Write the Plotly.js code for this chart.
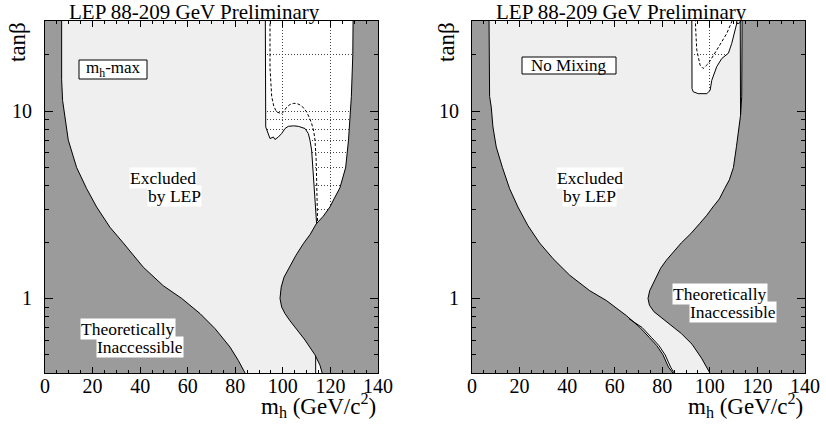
<!DOCTYPE html>
<html>
<head>
<meta charset="utf-8">
<script src="https://cdn.plot.ly/plotly-3.0.1.min.js"></script>
<style>html,body{margin:0;padding:0;background:#fff;}#chart{width:826px;height:427px;}</style>
</head>
<body>
<div id="chart"></div>
<script>
// ---------- DATA (m_h in GeV/c^2, tan(beta)) ----------
// Left panel: m_h-max scenario
const maxLeftDarkX = [7.0, 7.0, 7.4, 8.0, 9.8, 13.3, 17.5, 21.7, 27.3, 32.9, 41.3, 49.7, 57.5, 65.2, 71.5, 77.8, 81.3, 84.1, 84.6];
const maxLeftDarkY = [40, 14.7, 11.4, 10, 7.0, 5.0, 3.86, 3.08, 2.4, 1.98, 1.47, 1.17, 1.0, 0.83, 0.69, 0.55, 0.466, 0.4, 0.38];
const maxRightDarkX = [129.6, 129.4, 128.8, 128.4, 127.6, 126.4, 124.0, 121.5, 119.8, 117.0, 114.0, 111.5, 108.6, 105.5, 102.7, 100.5, 99.3, 98.8, 99.5, 100.9, 103.0, 105.1, 109.3, 113.5, 115.6, 117.0];
const maxRightDarkY = [40, 20, 12, 10, 7, 5, 3.9, 3.4, 3.08, 2.75, 2.5, 2.2, 1.96, 1.7, 1.47, 1.3, 1.15, 1.0, 0.9, 0.83, 0.76, 0.70, 0.60, 0.50, 0.44, 0.38];
// observed limit (boundary of the allowed white region)
const maxObsX = [92.6, 92.7, 93.0, 92.9, 92.8, 94.6, 96.0, 96.7, 98.1, 99.5, 100.9, 102.3, 104.5, 106.5, 108.3, 109.3, 110.7, 111.4, 112.1, 112.4, 112.8, 113.3, 113.8, 114.1, 114.2];
const maxObsY = [40, 20, 14, 10, 8.24, 7.14, 7.28, 7.06, 7.28, 7.6, 8.08, 8.3, 8.35, 8.3, 8.15, 8.08, 7.6, 7.0, 6.2, 5.47, 4.5, 3.6, 3.0, 2.7, 2.5];
// small allowed strip at low tan(beta)
const maxStripX = [125, 120, 113.8, 113.8];
const maxStripY = [1.0, 0.5, 0.5, 0.3];
// expected limit (dashed)
const maxExpX = [94.6, 94.6, 95.3, 96.2, 97.4, 98.5, 99.5, 100.5, 101.6, 103.0, 104.4, 105.8, 107.2, 108.8, 110.0, 111.2, 112.1, 113.0, 113.5, 114.0, 114.3, 114.5, 114.6];
const maxExpY = [40, 17, 12, 10.6, 9.9, 9.75, 9.7, 10.0, 10.5, 10.85, 11.0, 11.0, 10.8, 10.4, 9.9, 9.2, 8.6, 7.8, 7.0, 5.5, 4.0, 2.9, 2.55];

// Right panel: no mixing scenario
const noLeftDarkX = [7.1, 7.1, 7.4, 8.1, 8.8, 10.2, 12.8, 15.8, 19.3, 23.5, 28.4, 34.1, 41.1, 49.5, 56.5, 64.9, 70.6, 74.5, 77.7, 80.3, 82.6, 84.5, 85.0];
const noLeftDarkY = [40, 14.1, 12, 10.5, 8.24, 6.44, 5.0, 3.86, 3.08, 2.45, 1.98, 1.63, 1.33, 1.10, 0.975, 0.81, 0.70, 0.62, 0.56, 0.50, 0.43, 0.40, 0.38];
const noSliverLowX = [66.0, 71.5, 75.4, 78.6, 81.2, 83.5, 85.5];
const noSliverLowY = [0.78, 0.70, 0.62, 0.56, 0.50, 0.43, 0.39];
const noRightDarkX = [113.6, 113.6, 113.4, 112.9, 112.2, 111.2, 109.9, 108.2, 106.2, 104.0, 101.3, 98.7, 95.7, 92.0, 88.0, 84.7, 81.7, 79.3, 77.5, 75.8, 74.7, 74.0, 74.6, 76.5, 79.5, 83.5, 88.0, 92.5, 96.5, 100.0, 101.0];
const noRightDarkY = [40, 20, 12, 9.5, 8.0, 6.5, 5.0, 4.3, 3.86, 3.4, 3.08, 2.78, 2.51, 2.22, 1.98, 1.78, 1.6, 1.45, 1.3, 1.18, 1.1, 1.0, 0.92, 0.85, 0.79, 0.72, 0.65, 0.57, 0.48, 0.4, 0.38];
const noSliverHighX = [112.75, 112.8, 112.9];
const noSliverHighY = [40, 10.5, 9.5];
const noObsX = [92.4, 92.4, 92.5, 93.0, 95.1, 98.7, 100.1, 100.8, 102.0, 102.9, 105.0, 107.8, 109.2, 110.5, 111.3, 111.5];
const noObsY = [40, 20, 13.2, 12.7, 12.4, 12.4, 12.9, 14.6, 16.0, 17.3, 19.1, 20.4, 23, 27, 29.4, 40];
const noExpX = [93.8, 94.0, 94.5, 95.9, 97.2, 99.4, 102.9, 107.1, 109.2, 109.6];
const noExpY = [40, 28, 21.2, 17.6, 16.9, 18, 21.2, 26, 30, 40];

// axis ticks
const xTickStep = 20;
const yMajorVals = [1, 10];
const yMajorText = ['1', '10'];
const yMinorVals = [0.4, 0.5, 0.6, 0.7, 0.8, 0.9, 2, 3, 4, 5, 6, 7, 8, 9, 20, 30];

// texts
const titleText = 'LEP 88-209 GeV Preliminary';
const xTitleText = 'm<sub>h</sub> (GeV/c<sup>2</sup>)';
const yTitleText = 'tanβ';

// ---------- STYLE ----------
const FONT = "'Liberation Serif', 'Times New Roman', Times, serif";
const DARK = '#9b9b9b';
const LIGHT = '#efefef';
const XLO = -5, XHI = 145, YLO = 0.3, YHI = 40;

function fillTrace(xs, ys, color, xa, ya) {
  return {x: xs, y: ys, xaxis: xa, yaxis: ya, mode: 'lines', fill: 'toself', fillcolor: color,
          line: {color: '#000', width: 1}, hoverinfo: 'skip', showlegend: false};
}
function lineTrace(xs, ys, dash, xa, ya) {
  return {x: xs, y: ys, xaxis: xa, yaxis: ya, mode: 'lines',
          line: {color: '#000', width: 1, dash: dash}, hoverinfo: 'skip', showlegend: false};
}

const traces = [
  // left panel
  fillTrace([XLO, XLO].concat(maxObsX, maxStripX, [XLO]), [YLO, YHI].concat(maxObsY, maxStripY, [YLO]), LIGHT, 'x', 'y'),
  lineTrace(maxExpX, maxExpY, '3px,2px', 'x', 'y'),
  fillTrace(maxLeftDarkX.concat([XLO, XLO]), maxLeftDarkY.concat([YLO, YHI]), DARK, 'x', 'y'),
  fillTrace(maxRightDarkX.concat([XHI, XHI]), maxRightDarkY.concat([YLO, YHI]), DARK, 'x', 'y'),
  // right panel
  fillTrace([XLO, XLO].concat(noObsX, [XHI, XHI, XLO]), [YLO, YHI].concat(noObsY, [YHI, YLO, YLO]), LIGHT, 'x2', 'y2'),
  lineTrace(noExpX, noExpY, '3px,2px', 'x2', 'y2'),
  fillTrace(noLeftDarkX.concat([XLO, XLO]), noLeftDarkY.concat([YLO, YHI]), DARK, 'x2', 'y2'),
  fillTrace(noRightDarkX.concat([XHI, XHI]), noRightDarkY.concat([YLO, YHI]), DARK, 'x2', 'y2'),
  lineTrace(noSliverLowX, noSliverLowY, 'solid', 'x2', 'y2'),
  lineTrace(noSliverHighX, noSliverHighY, 'solid', 'x2', 'y2')
];

const GRID = {showgrid: true, gridcolor: '#444', gridwidth: 1, griddash: '1px,2px'};
function xAxis(domain, anchor) {
  return Object.assign({
    domain: domain, anchor: anchor, range: [0, 140], tickmode: 'linear', tick0: 0, dtick: xTickStep,
    ticks: 'inside', ticklen: 6, tickwidth: 1, tickcolor: '#000',
    showline: true, linecolor: '#000', linewidth: 1, mirror: 'allticks', zeroline: false,
    tickfont: {family: FONT, size: 20, color: '#000'}, ticklabelstandoff: -5,
    minor: {dtick: 5, ticks: 'inside', ticklen: 3, tickcolor: '#000', showgrid: false},
    fixedrange: true
  }, GRID);
}
function yAxis(anchor) {
  return Object.assign({
    anchor: anchor, type: 'log', range: [Math.log10(0.4), Math.log10(30.3)],
    tickmode: 'array', tickvals: yMajorVals, ticktext: yMajorText,
    ticks: 'inside', ticklen: 8, tickwidth: 1, tickcolor: '#000',
    showline: true, linecolor: '#000', linewidth: 1, mirror: 'allticks', zeroline: false,
    tickfont: {family: FONT, size: 20, color: '#000'}, ticklabelstandoff: 8,
    minor: Object.assign({tickmode: 'array', tickvals: yMinorVals, ticks: 'inside', ticklen: 4, tickcolor: '#000'}, GRID),
    fixedrange: true
  }, GRID);
}

// pixel -> paper helpers (plot region: x 45..805, y 21..373)
const PX = p => (p - 45) / 760;
const PY = p => (373 - p) / 352;
function txt(text, x, y, size, opts) {
  return Object.assign({text: text, xref: 'paper', yref: 'paper', x: PX(x), y: PY(y), showarrow: false,
    font: {family: FONT, size: size, color: '#000'}, xanchor: 'center', yanchor: 'middle'}, opts || {});
}
const WB = {bgcolor: '#fff', borderpad: 0};

const annotations = [
  txt(titleText, 194, 12, 21),
  txt(titleText, 621, 12, 21),
  txt(yTitleText, 17, 42, 23, {textangle: -90}),
  txt(yTitleText, 446, 42, 23, {textangle: -90}),
  txt(xTitleText, 378, 405, 23, {xanchor: 'right'}),
  txt(xTitleText, 805, 405, 23, {xanchor: 'right'}),
  txt('m<sub>h</sub>-max', 113, 69, 17),
  txt('No Mixing', 569, 65.5, 17),
  txt('by LEP', 174, 196, 17.5, WB),
  txt('Excluded', 163, 178, 17.5, WB),
  txt('Inaccessible', 139.5, 347, 17.5, WB),
  txt('Theoretically', 127.5, 329, 17.5, WB),
  txt('by LEP', 589.5, 196, 17.5, WB),
  txt('Excluded', 589.5, 178, 17.5, WB),
  txt('Inaccessible', 732.5, 312, 17.5, WB),
  txt('Theoretically', 719.5, 294, 17.5, WB)
];

const shapes = [
  {type: 'rect', xref: 'paper', yref: 'paper', x0: PX(79), x1: PX(147), y0: PY(79), y1: PY(60), line: {color: '#000', width: 1}, fillcolor: '#fff', layer: 'above'},
  {type: 'rect', xref: 'paper', yref: 'paper', x0: PX(522), x1: PX(616), y0: PY(74), y1: PY(57), line: {color: '#000', width: 1}, fillcolor: '#fff', layer: 'above'}
];

const layout = {
  width: 826, height: 427,
  margin: {l: 45, r: 21, t: 21, b: 54},
  paper_bgcolor: '#fff', plot_bgcolor: '#fff',
  showlegend: false, hovermode: false,
  xaxis: xAxis([0, 333 / 760], 'y'),
  yaxis: yAxis('x'),
  xaxis2: xAxis([427 / 760, 1], 'y2'),
  yaxis2: yAxis('x2'),
  annotations: annotations,
  shapes: shapes
};

Plotly.newPlot('chart', traces, layout, {displayModeBar: false, staticPlot: true});
</script>
</body>
</html>
